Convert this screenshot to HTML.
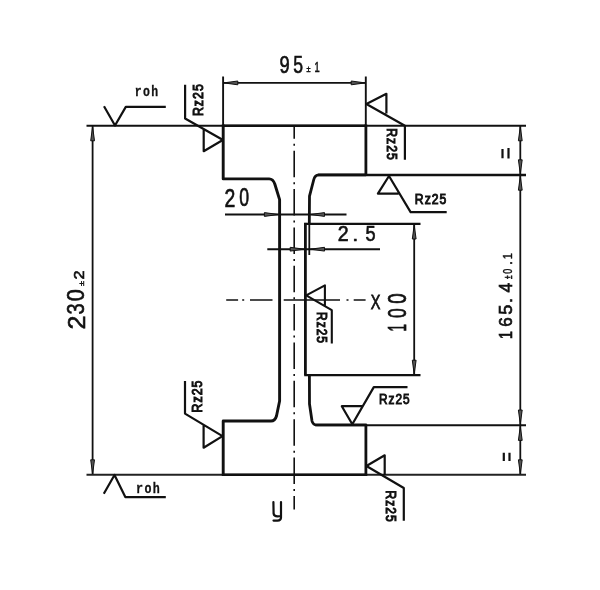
<!DOCTYPE html>
<html><head><meta charset="utf-8">
<style>
html,body{margin:0;padding:0;background:#fff;width:600px;height:590px;overflow:hidden}
svg{display:block;filter:grayscale(1)}
text{fill:#111}
</style></head>
<body>
<svg width="600" height="590" viewBox="0 0 600 590">
<rect width="600" height="590" fill="#fff"/>
<g fill="none" stroke="#111" stroke-linecap="butt" stroke-linejoin="round">
  <!-- long horizontal lines -->
  <line x1="86.5" y1="125.7" x2="526" y2="125.7" stroke-width="2.0"/>
  <line x1="86.5" y1="474.8" x2="526" y2="474.8" stroke-width="2.0" stroke="#222"/>
  <line x1="318" y1="175" x2="526" y2="175" stroke-width="2.4"/>
  <line x1="315" y1="425.2" x2="526" y2="425.2" stroke-width="1.9"/>
  <line x1="223" y1="125.7" x2="365.9" y2="125.7" stroke-width="2.5"/>
  <line x1="223" y1="474.8" x2="365.9" y2="474.8" stroke-width="2.6"/>
  <!-- beam outline -->
  <path d="M223.2,124.5 L223.2,178.9 L269.2,178.9 Q273,179 274.8,184 L279.6,199.6 L279.6,401 L276.5,416 Q275,421 271,421 L223.2,421 L223.2,476" stroke-width="2.9"/>
  <path d="M365.9,124.5 L365.9,174.8 L318.7,174.8 Q315,175 313.8,179.5 L309.5,196.2 L309.3,224" stroke-width="2.8"/>
  <path d="M305.4,222.9 L305.4,375.2" stroke-width="2.8"/>
  <path d="M309.4,375.2 L309.5,404 L312,421 Q313,425 317,424.9 L365.9,424.9 L365.9,476" stroke-width="2.8"/>
  <line x1="309.3" y1="224" x2="309.3" y2="255" stroke-width="1.8"/>
  <!-- 100 extension lines -->
  <line x1="304.2" y1="223.9" x2="420.5" y2="223.9" stroke-width="2.3"/>
  <line x1="304.2" y1="375.2" x2="420.5" y2="375.2" stroke-width="2.3"/>
  <!-- 95 dim -->
  <line x1="223.1" y1="76.5" x2="223.1" y2="125" stroke-width="1.9"/>
  <line x1="365.8" y1="76.5" x2="365.8" y2="125" stroke-width="1.9"/>
  <line x1="223" y1="82.9" x2="366" y2="82.9" stroke-width="1.9"/>
  <!-- 230 dim -->
  <line x1="92.6" y1="126" x2="92.6" y2="474" stroke-width="1.8"/>
  <!-- right dims -->
  <line x1="520.3" y1="126" x2="520.3" y2="474" stroke-width="1.8"/>
  <!-- 100 dim -->
  <line x1="414.2" y1="224" x2="414.2" y2="375" stroke-width="1.8"/>
  <!-- 20 dim -->
  <line x1="225" y1="214.5" x2="346.5" y2="214.5" stroke-width="1.9"/>
  <!-- 2.5 dim -->
  <line x1="267.3" y1="249.2" x2="380" y2="249.2" stroke-width="1.9"/>
  <!-- centre lines -->
  <line x1="294.2" y1="125.7" x2="294.2" y2="509.5" stroke-width="1.6" stroke-dasharray="26.5 5 2 4.86" stroke-dashoffset="13.4"/>
  <path d="M226.2,300 L238.1,300 M242.2,300 L244.2,300 M250,300 L272.5,300 M283.7,300 L340,300 M346.5,300 L348.5,300 M353.7,300 L365.6,300" stroke-width="1.5"/>

  <!-- surface symbols -->
  <path d="M104,106.2 L115,125.5 L125.8,106.9 L165.8,106.9" stroke-width="2.2"/>
  <path d="M103.8,493.7 L114.5,475 L125.3,497.1 L165.8,497.1" stroke-width="2.2"/>
  <path d="M185.1,84.7 L185.1,118.5 L223,140 M203.7,129.3 L203.7,151.2 L222.8,140" stroke-width="2.2"/>
  <path d="M404.9,159.7 L404.9,125.8 L366.4,104 L386.4,93.8 L386.4,113.6" stroke-width="2.2"/>
  <path d="M446.7,212.1 L410.6,212.1 L389,176 L377.9,193.6 L398.6,193.6" stroke-width="2.2"/>
  <path d="M331.8,343.5 L331.8,310.2 L306.2,295.4 L324.9,285.3 L324.9,305.5" stroke-width="2.1"/>
  <path d="M185,381 L185,413.6 L222.5,436.1 M203.6,425 L203.6,447.7 L222.5,436.1" stroke-width="2.2"/>
  <path d="M407.5,387.1 L373.8,387.1 L352.3,424.3 L341.8,406.2 L362.8,406.2" stroke-width="2.2"/>
  <path d="M403.8,520.7 L403.8,488 L366.4,466 L384.7,455.3 L384.7,475" stroke-width="2.2"/>
  <!-- y -->
  <path d="M273.4,502 L273.6,513.5 Q274,516.3 277.5,516.3 L281,516 M281,502 L281,517.5 Q281,520.5 277.5,520.6 L273.5,520.6" stroke-width="2.2" stroke-linecap="round"/>
  <!-- equals signs (rotated) -->
  <path d="M502.5,149 L502.5,158.3 M508.5,148 L508.5,158.6" stroke-width="2.2"/>
  <path d="M503.8,452.8 L503.8,461 M509.5,452.8 L509.5,461" stroke-width="2.2"/>
</g>
<!-- arrowheads -->
<g fill="#555" stroke="#111" stroke-width="1.0" stroke-linejoin="round">
  <path d="M223.8,82.9 L237.8,81.0 L237.8,84.80000000000001 Z"/>
  <path d="M365.2,82.9 L351.2,81.0 L351.2,84.80000000000001 Z"/>
  <path d="M92.6,126.8 L90.69999999999999,140.8 L94.5,140.8 Z"/>
  <path d="M92.6,473.8 L90.69999999999999,459.8 L94.5,459.8 Z"/>
  <path d="M520.3,126.8 L518.4,140.8 L522.1999999999999,140.8 Z"/>
  <path d="M520.3,173.8 L518.4,159.8 L522.1999999999999,159.8 Z"/>
  <path d="M520.3,176.2 L518.4,190.2 L522.1999999999999,190.2 Z"/>
  <path d="M520.3,424 L518.4,410 L522.1999999999999,410 Z"/>
  <path d="M520.3,426.4 L518.4,440.4 L522.1999999999999,440.4 Z"/>
  <path d="M520.3,473.8 L518.4,459.8 L522.1999999999999,459.8 Z"/>
  <path d="M414.2,225 L412.3,239 L416.09999999999997,239 Z"/>
  <path d="M414.2,374.2 L412.3,360.2 L416.09999999999997,360.2 Z"/>
  <path d="M278.4,214.5 L264.4,212.6 L264.4,216.4 Z"/>
  <path d="M310.5,214.5 L324.5,212.6 L324.5,216.4 Z"/>
  <path d="M304.2,249.2 L290.2,247.29999999999998 L290.2,251.1 Z"/>
  <path d="M310.5,249.2 L324.5,247.29999999999998 L324.5,251.1 Z"/>
</g>
<g>
<text style="font-family:'Liberation Sans'" font-size="24" font-weight="normal" letter-spacing="0" stroke="#111" stroke-width="0.65" transform="translate(279.43,73.01) rotate(0) scale(0.766,0.971)">9</text>
<text style="font-family:'Liberation Sans'" font-size="24" font-weight="normal" letter-spacing="0" stroke="#111" stroke-width="0.65" transform="translate(293.13,73.01) rotate(0) scale(0.735,0.986)">5</text>
<text style="font-family:'Liberation Sans'" font-size="11" font-weight="normal" letter-spacing="0" stroke="#111" stroke-width="0.6" transform="translate(306.50,72.31) rotate(0) scale(0.667,0.759)">±</text>
<text style="font-family:'Liberation Sans'" font-size="15" font-weight="normal" letter-spacing="0" stroke="#111" stroke-width="0.6" transform="translate(314.53,72.26) rotate(0) scale(0.621,0.955)">1</text>
<text style="font-family:'Liberation Sans'" font-size="24" font-weight="normal" letter-spacing="0" stroke="#111" stroke-width="0.65" transform="translate(224.39,206.73) rotate(0) scale(0.809,1.072)">2</text>
<text style="font-family:'Liberation Sans'" font-size="24" font-weight="normal" letter-spacing="0" stroke="#111" stroke-width="0.65" transform="translate(239.13,206.47) rotate(0) scale(0.735,1.057)">0</text>
<text style="font-family:'Liberation Sans'" font-size="23" font-weight="normal" letter-spacing="0" stroke="#111" stroke-width="0.65" transform="translate(337.76,241.45) rotate(0) scale(0.853,0.997)">2</text>
<text style="font-family:'Liberation Sans'" font-size="23" font-weight="normal" letter-spacing="0" stroke="#111" stroke-width="0.65" transform="translate(352.15,241.49) rotate(0) scale(0.945,0.833)">.</text>
<text style="font-family:'Liberation Sans'" font-size="23" font-weight="normal" letter-spacing="0" stroke="#111" stroke-width="0.65" transform="translate(365.60,241.20) rotate(0) scale(0.791,0.997)">5</text>
<text style="font-family:'Liberation Sans'" font-size="21" font-weight="normal" letter-spacing="0" stroke="#111" stroke-width="0.8" transform="translate(370.67,309.21) rotate(0) scale(0.690,0.981)">X</text>
<text style="font-family:'Liberation Sans'" font-size="26" font-weight="normal" letter-spacing="0" stroke="#111" stroke-width="0.75" transform="translate(406.49,331.46) rotate(-90) scale(0.508,1.013)">1</text>
<text style="font-family:'Liberation Sans'" font-size="26" font-weight="normal" letter-spacing="0" stroke="#111" stroke-width="0.75" transform="translate(406.26,318.11) rotate(-90) scale(0.677,0.987)">0</text>
<text style="font-family:'Liberation Sans'" font-size="26" font-weight="normal" letter-spacing="0" stroke="#111" stroke-width="0.75" transform="translate(406.26,303.74) rotate(-90) scale(0.715,0.987)">0</text>
<text style="font-family:'Liberation Sans'" font-size="25" font-weight="normal" letter-spacing="0" stroke="#111" stroke-width="0.65" transform="translate(84.55,329.61) rotate(-90) scale(1.008,0.989)">2</text>
<text style="font-family:'Liberation Sans'" font-size="25" font-weight="normal" letter-spacing="0" stroke="#111" stroke-width="0.65" transform="translate(84.31,314.40) rotate(-90) scale(0.800,0.975)">3</text>
<text style="font-family:'Liberation Sans'" font-size="25" font-weight="normal" letter-spacing="0" stroke="#111" stroke-width="0.65" transform="translate(84.31,301.25) rotate(-90) scale(0.864,0.975)">0</text>
<text style="font-family:'Liberation Sans'" font-size="11" font-weight="normal" letter-spacing="0" stroke="#111" stroke-width="0.6" transform="translate(83.92,286.00) rotate(-90) scale(0.833,0.703)">±</text>
<text style="font-family:'Liberation Sans'" font-size="15" font-weight="normal" letter-spacing="0" stroke="#111" stroke-width="0.6" transform="translate(83.84,279.55) rotate(-90) scale(1.093,1.036)">2</text>
<text style="font-family:'Liberation Sans'" font-size="19" font-weight="normal" letter-spacing="0" stroke="#111" stroke-width="0.7" transform="translate(512.41,338.96) rotate(-90) scale(0.756,0.971)">1</text>
<text style="font-family:'Liberation Sans'" font-size="19" font-weight="normal" letter-spacing="0" stroke="#111" stroke-width="0.7" transform="translate(512.42,326.85) rotate(-90) scale(0.895,0.954)">6</text>
<text style="font-family:'Liberation Sans'" font-size="19" font-weight="normal" letter-spacing="0" stroke="#111" stroke-width="0.7" transform="translate(512.41,314.74) rotate(-90) scale(0.954,0.971)">5</text>
<text style="font-family:'Liberation Sans'" font-size="19" font-weight="normal" letter-spacing="0" stroke="#111" stroke-width="0.7" transform="translate(512.45,302.98) rotate(-90) scale(0.945,0.900)">.</text>
<text style="font-family:'Liberation Sans'" font-size="19" font-weight="normal" letter-spacing="0" stroke="#111" stroke-width="0.7" transform="translate(512.41,292.50) rotate(-90) scale(0.917,0.971)">4</text>
<text style="font-family:'Liberation Sans'" font-size="10" font-weight="normal" letter-spacing="0" stroke="#111" stroke-width="0.6" transform="translate(511.75,279.00) rotate(-90) scale(0.636,1.000)">±</text>
<text style="font-family:'Liberation Sans'" font-size="12" font-weight="normal" letter-spacing="0" stroke="#111" stroke-width="0.4" transform="translate(512.23,273.69) rotate(-90) scale(0.752,1.086)">0</text>
<text style="font-family:'Liberation Sans'" font-size="12" font-weight="normal" letter-spacing="0" stroke="#111" stroke-width="0.4" transform="translate(512.21,265.33) rotate(-90) scale(1.333,1.143)">.</text>
<text style="font-family:'Liberation Sans'" font-size="12" font-weight="normal" letter-spacing="0" stroke="#111" stroke-width="0.4" transform="translate(512.23,259.30) rotate(-90) scale(0.927,1.086)">1</text>
<text style="font-family:'Liberation Mono'" font-size="14" font-weight="bold" letter-spacing="1.6" stroke="#111" stroke-width="0.3" transform="translate(134.78,96.04) rotate(0) scale(0.819,1.038)">roh</text>
<text style="font-family:'Liberation Mono'" font-size="14" font-weight="bold" letter-spacing="1.6" stroke="#111" stroke-width="0.3" transform="translate(136.06,493.05) rotate(0) scale(0.834,0.990)">roh</text>
<text style="font-family:'Liberation Sans'" font-size="15" font-weight="normal" letter-spacing="1.3" stroke="#111" stroke-width="1.05" transform="translate(414.79,203.88) rotate(0) scale(0.813,0.962)">Rz25</text>
<text style="font-family:'Liberation Sans'" font-size="15" font-weight="normal" letter-spacing="1.3" stroke="#111" stroke-width="1.05" transform="translate(379.01,404.31) rotate(0) scale(0.789,0.919)">Rz25</text>
<text style="font-family:'Liberation Sans'" font-size="15" font-weight="normal" letter-spacing="1.3" stroke="#111" stroke-width="1.05" transform="translate(202.54,116.12) rotate(-90) scale(0.821,1.013)">Rz25</text>
<text style="font-family:'Liberation Sans'" font-size="15" font-weight="normal" letter-spacing="1.3" stroke="#111" stroke-width="1.05" transform="translate(202.27,412.62) rotate(-90) scale(0.826,0.979)">Rz25</text>
<text style="font-family:'Liberation Sans'" font-size="15" font-weight="normal" letter-spacing="1.3" stroke="#111" stroke-width="1.05" transform="translate(387.23,128.19) rotate(90) scale(0.813,0.970)">Rz25</text>
<text style="font-family:'Liberation Sans'" font-size="15" font-weight="normal" letter-spacing="1.3" stroke="#111" stroke-width="1.05" transform="translate(386.36,490.40) rotate(90) scale(0.803,1.013)">Rz25</text>
<text style="font-family:'Liberation Sans'" font-size="15" font-weight="normal" letter-spacing="1.3" stroke="#111" stroke-width="1.05" transform="translate(317.32,312.00) rotate(90) scale(0.797,0.962)">Rz25</text>
</g>
</svg>
</body></html>
